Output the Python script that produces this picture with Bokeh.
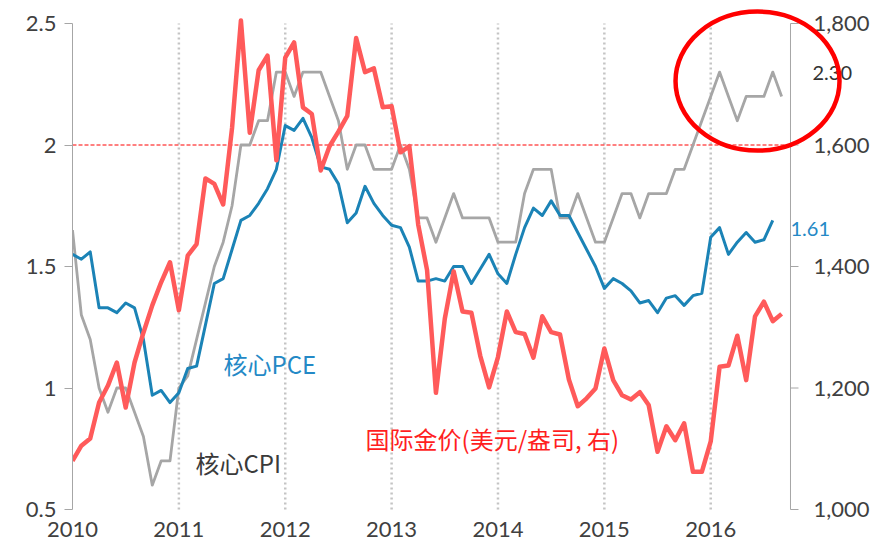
import numpy as np
from bokeh.plotting import figure
from bokeh.models import Range1d, FixedTicker, NumeralTickFormatter
from bokeh.core.properties import value
from bokeh.embed import file_html
from bokeh.resources import INLINE

# ---------------- data (monthly, starting Jan 2010) ----------------
start_year = 2010
year_ticks = [2010, 2011, 2012, 2013, 2014, 2015, 2016]
left_ticks = [0.5, 1.0, 1.5, 2.0, 2.5]
right_ticks = [1000, 1200, 1400, 1600, 1800]

core_cpi = [
    1.65, 1.3, 1.2, 1.0, 0.9, 1.0, 1.0, 0.9, 0.8, 0.6, 0.7, 0.7,
    1.0, 1.05, 1.2, 1.35, 1.5, 1.6, 1.75, 2.0, 2.0, 2.1, 2.1, 2.3,
    2.3, 2.2, 2.3, 2.3, 2.3, 2.2, 2.1, 1.9, 2.0, 2.0, 1.9, 1.9,
    1.9, 2.0, 1.9, 1.7, 1.7, 1.6, 1.7, 1.8, 1.7, 1.7, 1.7, 1.7,
    1.6, 1.6, 1.6, 1.8, 1.9, 1.9, 1.9, 1.7, 1.7, 1.8, 1.7, 1.6,
    1.6, 1.7, 1.8, 1.8, 1.7, 1.8, 1.8, 1.8, 1.9, 1.9, 2.0, 2.1,
    2.2, 2.3, 2.2, 2.1, 2.2, 2.2, 2.2, 2.3, 2.2]

core_pce = [
    1.55, 1.53, 1.56, 1.33, 1.33, 1.31, 1.35, 1.33, 1.2, 0.97, 0.99, 0.94,
    0.98, 1.08, 1.09, 1.26, 1.43, 1.45, 1.57, 1.69, 1.71, 1.76, 1.82, 1.9,
    2.08, 2.06, 2.11, 2.03, 1.91, 1.9, 1.84, 1.68, 1.72, 1.83, 1.76, 1.71,
    1.67, 1.66, 1.58, 1.44, 1.44, 1.45, 1.44, 1.5, 1.5, 1.43, 1.49, 1.55,
    1.47, 1.43, 1.55, 1.66, 1.74, 1.71, 1.77, 1.71, 1.71, 1.64, 1.57, 1.5,
    1.41, 1.45, 1.43, 1.4, 1.35, 1.36, 1.31, 1.37, 1.38, 1.34, 1.38, 1.39,
    1.62, 1.66, 1.55, 1.6, 1.64, 1.6, 1.61, 1.69]

gold = [
    1080, 1105, 1117, 1176, 1204, 1242, 1168, 1242, 1291, 1336, 1374, 1407,
    1328, 1418, 1437, 1545, 1536, 1502, 1628, 1805, 1620, 1723, 1747, 1575,
    1744, 1769, 1662, 1651, 1558, 1598, 1622, 1648, 1776, 1720, 1726, 1662,
    1664, 1588, 1598, 1469, 1394, 1192, 1314, 1392, 1326, 1324, 1253, 1201,
    1251, 1326, 1292, 1289, 1250, 1318, 1292, 1288, 1214, 1170, 1183, 1199,
    1265, 1213, 1188, 1181, 1193, 1172, 1095, 1137, 1114, 1142, 1062, 1062,
    1112, 1235, 1237, 1286, 1213, 1318, 1342, 1310, 1322]

label_pce = "核心PCE"
label_cpi = "核心CPI"
label_gold = "国际金价(美元/盎司, 右)"
pce_last_text = "1.61"
cpi_last_text = "2.30"
target_level = 2.0

# ---------------- layout / styles ----------------
BLUE = "#1B83B6"
GRAY = "#A6A6A6"
RED = "#FF5A5A"
AXIS = "#A6A6A6"
TXT = "#404040"
FONT = "Lato"
CJK = "Noto Sans CJK SC"

X0, X_AXIS_END = 2010.0, 2016.75          # left axis / right axis positions
L0, L1 = 0.5, 2.5                          # left axis span
G0, G1 = 1000.0, 1800.0                    # right axis span
PX_PER_YEAR = 106.37                       # frame scale (x)
PX_PER_UNIT = 243.0                        # frame scale (left y)
FRAME_LEFT, FRAME_TOP, W, H, BOTTOM = 72, 8, 880, 547, 27
PAD_BELOW = 11                             # px of frame below the 0.5 line
frame_w = W - FRAME_LEFT
frame_h = H - FRAME_TOP - BOTTOM
x_end = X0 + frame_w / PX_PER_YEAR
y_bot = L0 - PAD_BELOW / PX_PER_UNIT
y_top = y_bot + frame_h / PX_PER_UNIT
g_scale = (G1 - G0) / (L1 - L0)
g_bot = G0 + (y_bot - L0) * g_scale
g_top = G0 + (y_top - L0) * g_scale
dx = 1.0 / PX_PER_YEAR                     # one pixel in x data units


def months(n):
    return start_year + np.arange(n) / 12.0


p = figure(width=W, height=H, output_backend="svg", toolbar_location=None,
           x_range=Range1d(X0, x_end), y_range=Range1d(y_bot, y_top),
           min_border_left=FRAME_LEFT, min_border_right=0,
           min_border_top=FRAME_TOP, min_border_bottom=BOTTOM)
p.extra_y_ranges = {"gold": Range1d(g_bot, g_top)}
p.outline_line_color = None
p.background_fill_color = "white"
p.border_fill_color = "white"
p.grid.visible = False

# bottom axis (labels only)
xa = p.xaxis[0]
xa.ticker = FixedTicker(ticks=year_ticks)
xa.formatter = NumeralTickFormatter(format="0")
xa.axis_line_color = None
xa.major_tick_line_color = None
xa.minor_tick_line_color = None
xa.major_tick_out = 0
xa.major_tick_in = 0
xa.major_label_standoff = 1
xa.major_label_text_font = FONT
xa.major_label_text_font_size = "22px"
xa.major_label_text_color = TXT

# left axis
ya = p.yaxis[0]
ya.bounds = (L0, L1)
ya.ticker = FixedTicker(ticks=left_ticks)
ya.formatter = NumeralTickFormatter(format="0.[0]")
ya.axis_line_color = AXIS
ya.major_tick_line_color = AXIS
ya.minor_tick_line_color = None
ya.major_tick_out = 8
ya.major_tick_in = 0
ya.major_label_standoff = 8
ya.major_label_text_font = FONT
ya.major_label_text_font_size = "22px"
ya.major_label_text_color = TXT

# dotted year gridlines
grid_years = year_ticks[1:]
p.segment(x0=grid_years, y0=[L0] * len(grid_years), x1=grid_years,
          y1=[L1] * len(grid_years), line_color="#C4C4C4", line_width=2.5,
          line_dash="2 3")

# 2% reference line
p.segment(x0=[X0], y0=[target_level], x1=[X_AXIS_END], y1=[target_level],
          line_color="#FF0000", line_width=1, line_dash="4 2")

# right axis (drawn inside the widened frame)
p.segment(x0=[X_AXIS_END], y0=[G0], x1=[X_AXIS_END], y1=[G1],
          y_range_name="gold", line_color=AXIS, line_width=1)
p.segment(x0=[X_AXIS_END] * len(right_ticks), y0=right_ticks,
          x1=[X_AXIS_END + 8 * dx] * len(right_ticks), y1=right_ticks,
          y_range_name="gold", line_color=AXIS, line_width=1)
p.text(x=[X_AXIS_END + 23 * dx] * len(right_ticks), y=right_ticks,
       text=[f"{v:,}" for v in right_ticks], y_range_name="gold",
       text_font=value(FONT), text_font_size=value("22px"), text_color=TXT,
       text_align="left", text_baseline="middle")

# series
p.line(months(len(core_cpi)), core_cpi, line_color=GRAY, line_width=2.8,
       line_join="round")
p.line(months(len(core_pce)), core_pce, line_color=BLUE, line_width=3,
       line_join="round")
p.line(months(len(gold)), gold, y_range_name="gold", line_color=RED,
       line_width=4.5, line_join="round")

# text labels
p.text(x=[2011.42], y=[1.10], text=[label_pce], text_color="#2489C6",
       text_font=value(CJK), text_font_size=value("24px"), text_baseline="middle")
p.text(x=[2011.156], y=[0.693], text=[label_cpi], text_color="#3A3A3A",
       text_font=value(CJK), text_font_size=value("24px"), text_baseline="middle")
p.text(x=[2012.755], y=[0.792], text=[label_gold], text_color="#FF1F1F",
       text_font=value(CJK), text_font_size=value("24px"), text_baseline="middle")
p.text(x=[X_AXIS_END], y=[1.656], text=[pce_last_text], text_color="#2489C6",
       text_font=value(FONT), text_font_size=value("20px"), text_baseline="middle")
p.text(x=[2016.957], y=[2.298], text=[cpi_last_text], text_color="#333333",
       text_font=value(FONT), text_font_size=value("20px"), text_baseline="middle")

# red highlight ellipse
p.ellipse(x=[2016.44], y=[2.263], width=[164 * dx], height=[139 / PX_PER_UNIT],
          fill_color=None, line_color="#FF0000", line_width=4.5)

open("out.html", "w").write(file_html(p, INLINE))
